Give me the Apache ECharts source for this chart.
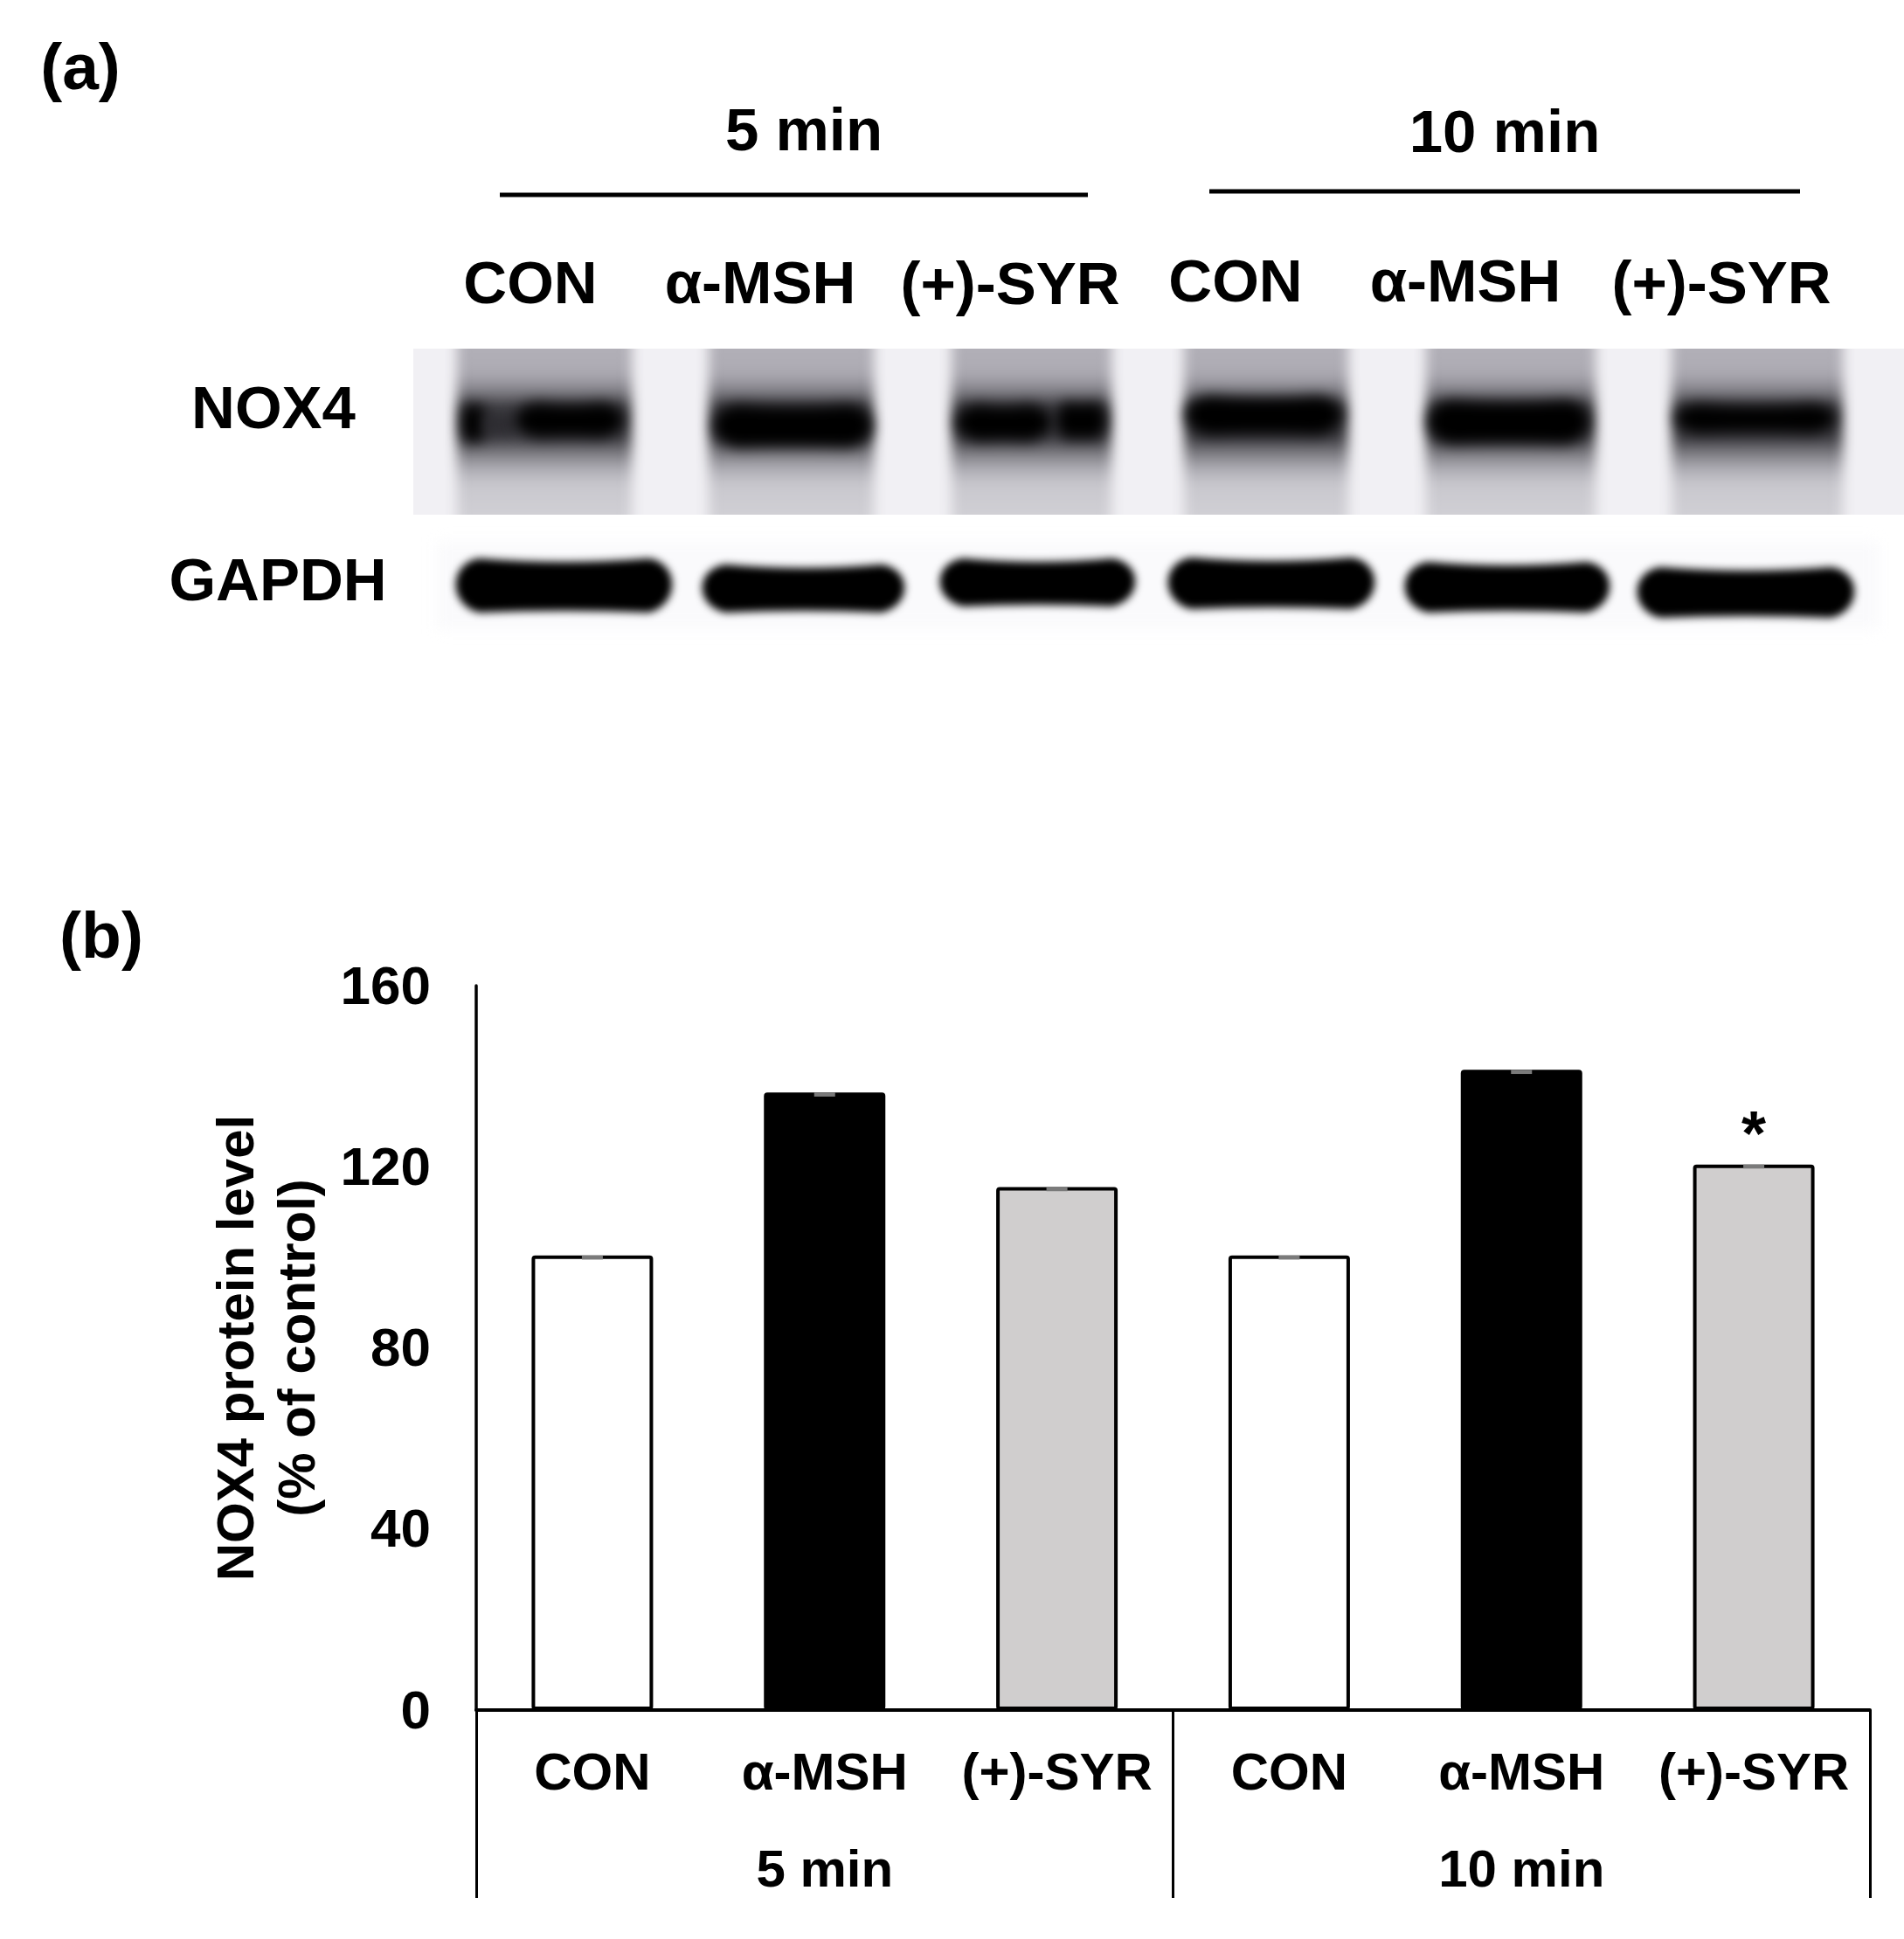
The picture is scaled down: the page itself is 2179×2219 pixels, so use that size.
<!DOCTYPE html>
<html><head><meta charset="utf-8">
<style>html,body{margin:0;padding:0;background:#fff}#c{width:2179px;height:2219px}</style>
<script src="https://cdn.jsdelivr.net/npm/echarts@6/dist/echarts.min.js"></script>
</head><body><div id="c"></div>
<script>
const categories = ['CON', 'α-MSH', '(+)-SYR', 'CON', 'α-MSH', '(+)-SYR'];
const groups = ['5 min', '10 min'];
const values = [100.4, 136.4, 115.5, 100.4, 141.4, 120.5];
const errors = [0.9, 0.9, 0.9, 0.9, 0.9, 0.9];
const fills = ['#ffffff', '#000000', '#d0cece', '#ffffff', '#000000', '#d0cece'];
const marks = ['', '', '', '', '', '*'];
const yTicks = [0, 40, 80, 120, 160];
const yName = 'NOX4 protein level\n(% of control)';

// Panel (a): blot picture, a decoration and not data (x0, x1, y0, y1)
const noxLanes = [[523,723],[811,1000],[1089,1272],[1355,1543],[1632,1826],[1913,2109]];
const noxBands = [[528,556,462,506,'#000'],[552,592,474,497,'#2c2b30'],[588,716,461,501,'#000'],
  [815,1000,463,512,'#000'],[1092,1205,463,505,'#000'],[1208,1267,460,503,'#000'],
  [1355,1538,453,498,'#000'],[1632,1821,458,508,'#000'],[1915,2103,462,496,'#000']];
const gapdhBands = [[518,773,637,703],[800,1039,644,703],[1072,1303,637,696],[1333,1577,636,699],[1604,1846,641,703],[1870,2126,647,709]];
const topTexts = [['5 min',920,153],['10 min',1722,155],['CON',607,328],['α-MSH',870,328],['(+)-SYR',1156,329],
  ['CON',1414,326],['α-MSH',1677,326],['(+)-SYR',1970,328],['NOX4',313,471],['GAPDH',318,668]];
const panelTexts = [['(a)',92,81],['(b)',116,1075]];
const topLines = [[572,1245,223],[1384,2060,219]];

const FF = '"Liberation Sans", Arial, sans-serif';

function bandPath(ctx,a,b,c,d,sag){
  const m=(a+b)/2,h=d-c,r=Math.min(28,(b-a)/4);
  ctx.beginPath();
  ctx.moveTo(a+r,c);
  ctx.quadraticCurveTo(m,c+sag,b-r,c);
  ctx.bezierCurveTo(b+r*0.25,c+h*0.1,b+r*0.25,d-h*0.15,b-r,d);
  ctx.quadraticCurveTo(m,d-sag*0.5,a+r,d);
  ctx.bezierCurveTo(a-r*0.25,d-h*0.15,a-r*0.25,c+h*0.1,a+r,c);
  ctx.closePath();ctx.fill();
}
function makeBlot(){
  const cv=document.createElement('canvas');cv.width=2179;cv.height=760;
  const ctx=cv.getContext('2d');
  ctx.save();
  ctx.beginPath();ctx.rect(473,399,1706,190);ctx.clip();
  ctx.fillStyle='#f1f0f4';ctx.fillRect(473,399,1706,190);
  ctx.filter='blur(7px)';
  const g=ctx.createLinearGradient(0,380,0,610);
  [[0,'#b4b2ba'],[0.2,'#adabb3'],[0.26,'#96949c'],[0.32,'#6e6d73'],[0.37,'#3a393e'],[0.52,'#3a393e'],
   [0.6,'#7b7a80'],[0.68,'#aeadb4'],[0.76,'#c9c8ce'],[1,'#d4d3d8']].forEach(s=>g.addColorStop(s[0],s[1]));
  ctx.fillStyle=g;
  noxLanes.forEach(([a,b])=>ctx.fillRect(a,370,b-a,260));
  ctx.filter='blur(8px)';
  noxBands.forEach(([a,b,c,d,col])=>{ctx.fillStyle=col;bandPath(ctx,a,b,c,d,5);});
  ctx.restore();
  ctx.filter='blur(8px)';
  ctx.fillStyle='#fafafc';ctx.fillRect(500,620,1650,100);
  ctx.filter='blur(5px)';
  ctx.fillStyle='#000';
  gapdhBands.forEach(([a,b,c,d])=>bandPath(ctx,a+2,b-2,c+2,d-2,8));
  ctx.filter='none';
  return cv;
}

const graphic = [{type:'image',silent:true,z:1,style:{image:makeBlot(),x:0,y:0,width:2179,height:760}}];
topLines.forEach(([a,b,y])=>{
  graphic.push({type:'line',silent:true,z:4,shape:{x1:a,y1:y,x2:b,y2:y},style:{stroke:'#000',lineWidth:5}});
});
topTexts.forEach(([t,x,y])=>{
  graphic.push({type:'text',silent:true,z:5,x,y,style:{text:t,fill:'#000',font:'bold 69px '+FF,textAlign:'center',textVerticalAlign:'middle'}});
});
panelTexts.forEach(([t,x,y])=>{
  graphic.push({type:'text',silent:true,z:5,x,y,style:{text:t,fill:'#000',font:'bold 75px '+FF,textAlign:'center',textVerticalAlign:'middle'}});
});

const chart = echarts.init(document.getElementById('c'), null, {renderer:'canvas'});
chart.setOption({
  animation:false,
  backgroundColor:'#ffffff',
  graphic,
  grid:{left:545,top:1128,width:1595,height:829,containLabel:false},
  xAxis:[
    {type:'category',data:categories,position:'bottom',
     axisLine:{show:true,onZero:false,lineStyle:{color:'#000',width:4}},
     axisTick:{show:false},
     axisLabel:{interval:0,margin:44,color:'#000',fontFamily:FF,fontWeight:'bold',fontSize:60}},
    {type:'category',data:groups,position:'bottom',
     axisLine:{show:false},
     axisTick:{show:true,length:215,lineStyle:{color:'#000',width:3}},
     axisLabel:{interval:0,margin:155,color:'#000',fontFamily:FF,fontWeight:'bold',fontSize:60}}
  ],
  yAxis:{type:'value',min:yTicks[0],max:yTicks[yTicks.length-1],interval:40,
    name:yName,nameLocation:'middle',nameGap:133,nameRotate:90,
    nameTextStyle:{color:'#000',fontFamily:FF,fontWeight:'bold',fontSize:60,lineHeight:70,align:'center'},
    axisLine:{show:true,lineStyle:{color:'#000',width:3.5}},
    axisTick:{show:false},splitLine:{show:false},
    axisLabel:{margin:52,color:'#000',formatter:'{v|{value}}',
      rich:{v:{color:'#000',fontFamily:FF,fontWeight:'bold',fontSize:62,lineHeight:69,verticalAlign:'bottom'}}}},
  series:[
    {type:'bar',xAxisIndex:0,barWidth:139,z:2,
     data:values.map((v,i)=>({value:v,
       itemStyle:{color:fills[i],borderColor:'#000',borderWidth:4,borderRadius:2},
       label:{show:!!marks[i],position:'top',distance:-5,formatter:marks[i],color:'#000',fontFamily:FF,fontWeight:'bold',fontSize:72}}))},
    {type:'custom',xAxisIndex:0,z:3,
     data:values.map((v,i)=>[i,v,errors[i]]),
     encode:{x:0,y:1},
     renderItem:(params,api)=>{
       const hi=api.coord([api.value(0),api.value(1)]);
       const lo=api.coord([api.value(0),api.value(1)-api.value(2)]);
       return {type:'rect',shape:{x:hi[0]-12,y:hi[1],width:24,height:lo[1]-hi[1]},style:{fill:'#7a7a7a'}};
     }}
  ]
});
</script></body></html>
